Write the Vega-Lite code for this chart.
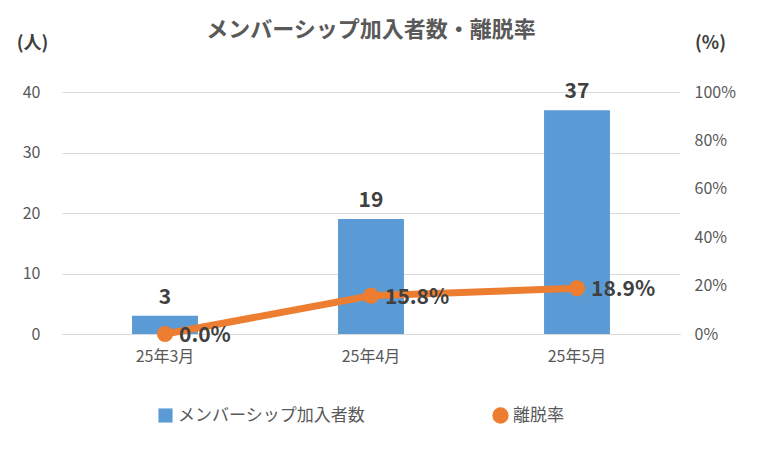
{
  "$schema": "https://vega.github.io/schema/vega-lite/v6.json",
  "autosize": "none",
  "width": 618,
  "height": 242,
  "padding": {"left": 62, "top": 92, "right": 90, "bottom": 118},
  "background": "white",
  "config": {
    "font": "Noto Sans CJK JP",
    "view": {"stroke": null},
    "axis": {"labelFont": "Noto Sans CJK JP", "labelColor": "#595959", "labelFontSize": 15, "titleFont": "Noto Sans CJK JP"}
  },
  "title": {"text": "メンバーシップ加入者数・離脱率", "fontSize": 22, "fontWeight": "bold", "color": "#595959", "offset": -8},
  "data": {"values": [
    {"month": "25年3月", "members": 3, "rate": 0.0, "rateLabel": "0.0%", "s1": "メンバーシップ加入者数", "s2": "離脱率"},
    {"month": "25年4月", "members": 19, "rate": 0.158, "rateLabel": "15.8%", "s1": "メンバーシップ加入者数", "s2": "離脱率"},
    {"month": "25年5月", "members": 37, "rate": 0.189, "rateLabel": "18.9%", "s1": "メンバーシップ加入者数", "s2": "離脱率"}
  ]},
  "encoding": {
    "x": {"field": "month", "type": "nominal", "sort": null, "title": null,
      "scale": {"paddingInner": 0.68, "paddingOuter": 0.34},
      "axis": {"labelAngle": 0, "domainColor": "#d9d9d9", "ticks": false, "labelPadding": 14, "labelFontSize": 16}}
  },
  "layer": [
    {
      "layer": [
        {
          "mark": {"type": "bar", "color": "#5B9BD5"},
          "encoding": {
            "y": {"field": "members", "type": "quantitative", "scale": {"domain": [0, 40]},
              "axis": {"values": [0,5,10,15,20,25,30,35,40], "labelOverlap": false, "labelFontSize": 16, "title": "(人)", "titleAngle": 0, "titleX": -30, "titleY": -40, "titleFontSize": 18, "titleFontWeight": "bold", "titleColor": "#404040", "domain": false, "ticks": false, "gridColor": "#d9d9d9", "labelPadding": 22}},
            "color": {"field": "s1", "type": "nominal", "scale": {"range": ["#5B9BD5"]},
              "legend": {"title": null, "orient": "none", "legendX": 95, "legendY": 315, "symbolType": "square", "symbolSize": 200, "labelFontSize": 17, "labelLimit": 400, "labelColor": "#595959", "labelFont": "Noto Sans CJK JP"}}
          }
        },
        {
          "mark": {"type": "text", "dy": -18, "fontSize": 21, "fontWeight": "bold", "color": "#404040"},
          "encoding": {
            "y": {"field": "members", "type": "quantitative", "scale": {"domain": [0, 40]}},
            "text": {"field": "members"}
          }
        }
      ]
    },
    {
      "layer": [
        {
          "mark": {"type": "line", "color": "#ED7D31", "strokeWidth": 7, "point": {"filled": true, "size": 260, "color": "#ED7D31"}},
          "encoding": {
            "y": {"field": "rate", "type": "quantitative", "scale": {"domain": [0, 1]},
              "axis": {"orient": "right", "format": ".0%", "values": [0,0.2,0.4,0.6,0.8,1], "labelFontSize": 16, "title": "(%)", "titleAngle": 0, "titleX": 30, "titleY": -40, "titleFontSize": 18, "titleFontWeight": "bold", "titleColor": "#404040", "domain": false, "ticks": false, "grid": false, "labelPadding": 14}},
            "color": {"field": "s2", "type": "nominal", "scale": {"range": ["#ED7D31"]},
              "legend": {"title": null, "orient": "none", "legendX": 430, "legendY": 315, "symbolType": "circle", "symbolSize": 220, "labelFontSize": 17, "labelColor": "#595959", "labelFont": "Noto Sans CJK JP"}}
          }
        },
        {
          "mark": {"type": "text", "align": "left", "dx": 14, "dy": 2, "fontSize": 21, "fontWeight": "bold", "color": "#404040"},
          "encoding": {
            "y": {"field": "rate", "type": "quantitative", "scale": {"domain": [0, 1]}},
            "text": {"field": "rateLabel"}
          }
        }
      ]
    }
  ],
  "resolve": {"scale": {"y": "independent", "color": "independent"}}
}
